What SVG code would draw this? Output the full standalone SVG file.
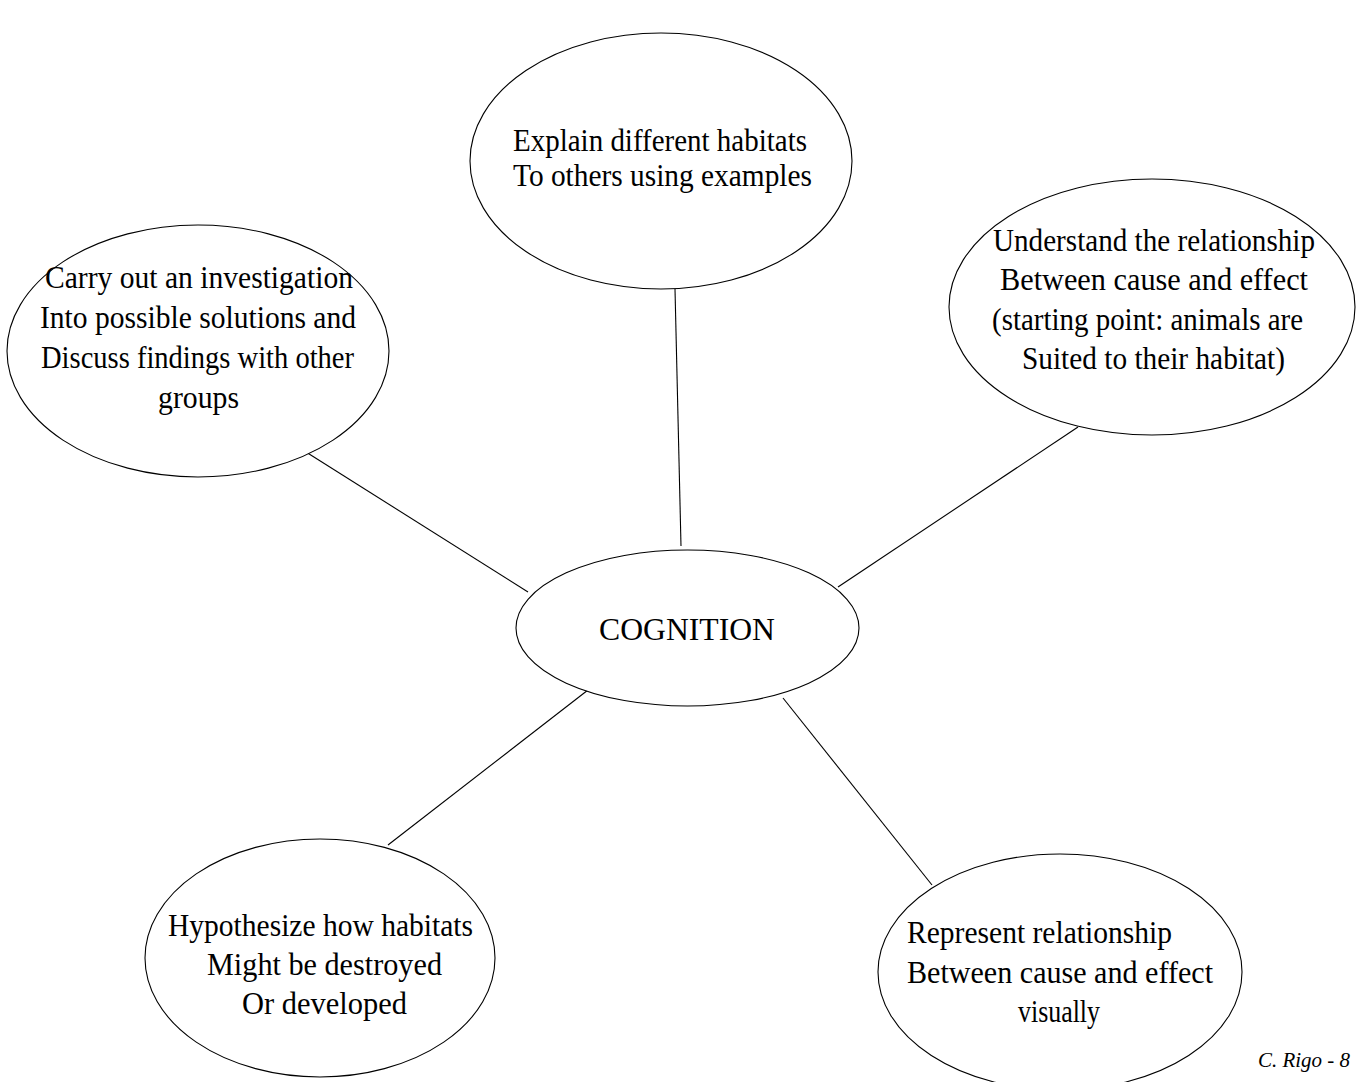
<svg xmlns="http://www.w3.org/2000/svg" width="1356" height="1082" viewBox="0 0 1356 1082">
  <style>
    .bubble { fill: #ffffff; stroke: #000000; stroke-width: 1.1; }
    .link { stroke: #000000; stroke-width: 1.1; fill: none; }
    .label { font-family: "Liberation Serif", "Times New Roman", serif; font-size: 32px; fill: #000000; }
    .credit { font-family: "Liberation Serif", "Times New Roman", serif; font-size: 20px; font-style: italic; fill: #000000; }
  </style>
  <rect x="0" y="0" width="1356" height="1082" fill="#ffffff"/>

  <!-- spokes from the central idea to each goal -->
  <g id="connectors">
    <line class="link" x1="675" y1="289" x2="681" y2="546"/>
    <line class="link" x1="306" y1="452" x2="528" y2="592"/>
    <line class="link" x1="1078" y1="427" x2="838" y2="587"/>
    <line class="link" x1="588" y1="690" x2="388" y2="845"/>
    <line class="link" x1="783" y1="698" x2="932" y2="885"/>
  </g>

  <g id="node-cognition">
    <ellipse class="bubble" cx="687.5" cy="628" rx="171.5" ry="78"/>
    <text class="label" x="599" y="640" textLength="176" lengthAdjust="spacingAndGlyphs">COGNITION</text>
  </g>

  <g id="node-explain">
    <ellipse class="bubble" cx="661" cy="161" rx="191" ry="128"/>
    <text class="label" x="513" y="151" textLength="294" lengthAdjust="spacingAndGlyphs">Explain different habitats</text>
    <text class="label" x="513" y="186" textLength="299" lengthAdjust="spacingAndGlyphs">To others using examples</text>
  </g>

  <g id="node-investigate">
    <ellipse class="bubble" cx="198" cy="351" rx="191" ry="126"/>
    <text class="label" x="45" y="288" textLength="308" lengthAdjust="spacingAndGlyphs">Carry out an investigation</text>
    <text class="label" x="40" y="328" textLength="316" lengthAdjust="spacingAndGlyphs">Into possible solutions and</text>
    <text class="label" x="41" y="368" textLength="313" lengthAdjust="spacingAndGlyphs">Discuss findings with other</text>
    <text class="label" x="158" y="408" textLength="81" lengthAdjust="spacingAndGlyphs">groups</text>
  </g>

  <g id="node-understand">
    <ellipse class="bubble" cx="1152" cy="307" rx="203" ry="128"/>
    <text class="label" x="993" y="251" textLength="322" lengthAdjust="spacingAndGlyphs">Understand the relationship</text>
    <text class="label" x="1000" y="290" textLength="308" lengthAdjust="spacingAndGlyphs">Between cause and effect</text>
    <text class="label" x="992" y="330" textLength="311" lengthAdjust="spacingAndGlyphs">(starting point: animals are</text>
    <text class="label" x="1022" y="369" textLength="263" lengthAdjust="spacingAndGlyphs">Suited to their habitat)</text>
  </g>

  <g id="node-hypothesize">
    <ellipse class="bubble" cx="320" cy="958" rx="175" ry="119"/>
    <text class="label" x="168" y="936" textLength="305" lengthAdjust="spacingAndGlyphs">Hypothesize how habitats</text>
    <text class="label" x="207" y="975" textLength="235" lengthAdjust="spacingAndGlyphs">Might be destroyed</text>
    <text class="label" x="242" y="1014" textLength="165" lengthAdjust="spacingAndGlyphs">Or developed</text>
  </g>

  <g id="node-represent">
    <ellipse class="bubble" cx="1060" cy="972" rx="182" ry="118"/>
    <text class="label" x="907" y="943" textLength="265" lengthAdjust="spacingAndGlyphs">Represent relationship</text>
    <text class="label" x="907" y="983" textLength="306" lengthAdjust="spacingAndGlyphs">Between cause and effect</text>
    <text class="label" x="1018" y="1022" textLength="82" lengthAdjust="spacingAndGlyphs">visually</text>
  </g>

  <text class="credit" x="1258" y="1067" textLength="92" lengthAdjust="spacingAndGlyphs">C. Rigo - 8</text>
</svg>
